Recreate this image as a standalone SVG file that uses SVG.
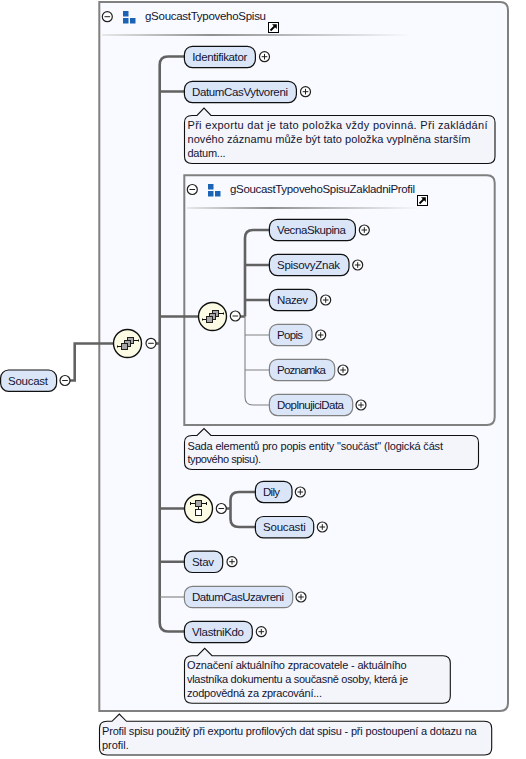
<svg xmlns="http://www.w3.org/2000/svg" width="526" height="759" viewBox="0 0 526 759">
<style>
text{font-family:"Liberation Sans",Arial,sans-serif;fill:#141432}
.lb{font-size:11.5px}
.an{font-size:11px}
.hd{font-size:11.5px}
.box{fill:#F9FAFF;stroke:#808080;stroke-width:2}
.req{fill:#DAE6F8;stroke:#101010;stroke-width:1.2}
.opt{fill:#DAE6F8;stroke:#808080;stroke-width:1.2}
.note{fill:#F3F5FA;stroke:#101010;stroke-width:1.1}
.btn{fill:#fff;stroke:#202020;stroke-width:1.2}
.sign{fill:none;stroke:#202020;stroke-width:1}
.thick{fill:none;stroke:#626262;stroke-width:2.6}
.thin{fill:none;stroke:#808080;stroke-width:1.1}
.comp{fill:#FCFBE3;stroke:#101010;stroke-width:1.4}
.sq{fill:#A8A8A8;stroke:#202020;stroke-width:1}
.wh{fill:#fff;stroke:#202020;stroke-width:1}
.bl{fill:#1B63B5}
.ic{fill:none;stroke:#101010;stroke-width:1}
</style>
<defs>
<linearGradient id="rule" x1="0" x2="1" y1="0" y2="0">
<stop offset="0" stop-color="#E8E8E8"/><stop offset="0.35" stop-color="#909090"/><stop offset="1" stop-color="#F9FAFF"/>
</linearGradient>
<g id="plus"><circle class="btn" r="5"/><path class="sign" d="M-2.8,0H2.8M0,-2.8V2.8"/></g>
<g id="minus"><circle class="btn" r="5"/><path class="sign" d="M-2.8,0H2.8"/></g>
<g id="grp"><rect class="bl" x="0" y="0" width="5.5" height="5.5"/><rect class="bl" x="0" y="7" width="5.5" height="5.5"/><rect class="bl" x="7" y="7" width="5.5" height="5.5"/></g>
<g id="link"><rect x="0.5" y="0.5" width="10" height="10" fill="#fff" stroke="#000"/><path d="M2.5,8.5L7,4" stroke="#000" stroke-width="1.8" fill="none"/><path d="M4,2.2H8.8V7z" fill="#000"/></g>
<g id="seq"><circle class="comp" r="14"/><path class="ic" d="M-10,3H-6M-10,2V4M6,-3H11M11,-4V-2"/><rect class="sq" x="0" y="-6" width="6" height="6"/><rect class="sq" x="-3" y="-3" width="6" height="6"/><rect class="sq" x="-6" y="0" width="6" height="6"/></g>
<g id="cho"><circle class="comp" r="14"/><path class="ic" d="M-8,-5H8M-8,-6.5V-3.5M8,-6.5V-3.5M0,-2V1"/><rect class="sq" x="-3" y="-8" width="6" height="6"/><rect class="wh" x="-3" y="1" width="6" height="6"/></g>
</defs>

<g id="gSoucastTypovehoSpisu">
<path class="box" d="M99.3,2H500Q508,2 508,10V703Q508,711 500,711H99.3Z"/>
<use href="#minus" x="107.3" y="16.7"/>
<use href="#grp" x="123" y="11"/>
<text class="hd" x="145" y="20" textLength="121">gSoucastTypovehoSpisu</text>
<use href="#link" x="268" y="22"/>
<rect x="102" y="34" width="310" height="2" fill="url(#rule)"/>
</g>

<g id="gSoucastTypovehoSpisuZakladniProfil">
<path class="box" d="M184.3,175.2H487Q494.7,175.2 494.7,183V417Q494.7,425 487,425H184.3Z"/>
<use href="#minus" x="192.3" y="189.5"/>
<use href="#grp" x="208" y="184"/>
<text class="hd" x="230" y="193" textLength="185">gSoucastTypovehoSpisuZakladniProfil</text>
<use href="#link" x="417" y="195"/>
<rect x="187" y="207" width="235" height="2" fill="url(#rule)"/>
</g>

<g id="connectors">
<path class="thick" d="M70,380.5H74.7V343.5H114"/>
<path class="thick" d="M156,343.5H159.7"/>
<path class="thick" d="M184,56.5H168Q159.7,56.5 159.7,65V622.5Q159.7,631.5 168,631.5H184"/>
<path class="thick" d="M159.7,91.5H184M159.7,316.5H198.5M159.7,508.5H185M159.7,561.7H184"/>
<path class="thin" d="M159.7,597H184"/>
<path class="thick" d="M240,316.5H245M269,230H253Q245,230 245,238V316.5M245,265H269M245,300H269"/>
<path class="thin" d="M245,316.5V397Q245,405 253,405H269M245,335H269M245,370H269"/>
<path class="thick" d="M226,508.5H230.5M255,492H239Q230.5,492 230.5,500V519Q230.5,527 239,527H255"/>
</g>

<g id="node-soucast"><rect class="req" x="0.6" y="370" width="56" height="21.3" rx="8"/><text class="lb" x="8" y="385" textLength="40">Soucast</text><use href="#minus" x="65" y="380.5"/></g>
<g id="node-seq1"><use href="#seq" x="127.5" y="343.5"/><use href="#minus" x="151" y="343.3"/></g>
<g id="node-identifikator"><rect class="req" x="184.4" y="46.3" width="71" height="21.3" rx="8"/><text class="lb" x="192.3" y="61" textLength="55">Identifikator</text><use href="#plus" x="264.5" y="56.7"/></g>
<g id="node-datumcasvytvoreni"><rect class="req" x="184.4" y="81.3" width="112" height="21.3" rx="8"/><text class="lb" x="192" y="96" textLength="96">DatumCasVytvoreni</text><use href="#plus" x="305.5" y="91.7"/></g>
<g id="note-datumcasvytvoreni"><path class="note" d="M192,115.5H197L204,108L211,115.5H488Q495,115.5 495,122.5V156.5Q495,163.5 488,163.5H192Q184.5,163.5 184.5,156.5V122.5Q184.5,115.5 192,115.5Z"/>
<text class="an" x="187.5" y="129" textLength="300">Při exportu dat je tato položka vždy povinná. Při zakládání</text>
<text class="an" x="187.5" y="143" textLength="283">nového záznamu může být tato položka vyplněna starším</text>
<text class="an" x="187.5" y="157" textLength="38">datum...</text></g>

<g id="node-seq2"><use href="#seq" x="212.5" y="316.5"/><use href="#minus" x="235.3" y="316"/></g>
<g id="node-vecnaskupina"><rect class="req" x="269.4" y="219.3" width="86" height="21.3" rx="8"/><text class="lb" x="277" y="234" textLength="69">VecnaSkupina</text><use href="#plus" x="364.3" y="230"/></g>
<g id="node-spisovyznak"><rect class="req" x="269.4" y="254.3" width="79.6" height="21.3" rx="8"/><text class="lb" x="277" y="269" textLength="63">SpisovyZnak</text><use href="#plus" x="357.7" y="265"/></g>
<g id="node-nazev"><rect class="req" x="269.4" y="289.3" width="47.3" height="21.3" rx="8"/><text class="lb" x="277" y="304" textLength="31">Nazev</text><use href="#plus" x="325.7" y="300"/></g>
<g id="node-popis"><rect class="opt" x="269.4" y="324.3" width="42.6" height="21.3" rx="8"/><text class="lb" x="277" y="339" textLength="26">Popis</text><use href="#plus" x="320.7" y="335"/></g>
<g id="node-poznamka"><rect class="opt" x="269.4" y="359.3" width="65.3" height="21.3" rx="8"/><text class="lb" x="277" y="374" textLength="49">Poznamka</text><use href="#plus" x="343" y="370"/></g>
<g id="node-doplnujicidata"><rect class="opt" x="269.4" y="394.3" width="83.3" height="21.3" rx="8"/><text class="lb" x="277" y="409" textLength="67">DoplnujiciData</text><use href="#plus" x="361" y="405"/></g>

<g id="note-profil"><path class="note" d="M192,435.5H197L204,428.5L211,435.5H471.5Q478.5,435.5 478.5,442.5V462.5Q478.5,469.5 471.5,469.5H192Q184.5,469.5 184.5,462.5V442.5Q184.5,435.5 192,435.5Z"/>
<text class="an" x="187.5" y="449.5" textLength="255.5">Sada elementů pro popis entity "součást" (logická část</text>
<text class="an" x="187.5" y="463" textLength="73.5">typového spisu).</text></g>

<g id="node-cho"><use href="#cho" x="198.5" y="508.5"/><use href="#minus" x="221.3" y="508.5"/></g>
<g id="node-dily"><rect class="req" x="255.4" y="481.3" width="36.6" height="21.3" rx="8"/><text class="lb" x="263" y="496" textLength="17">Dily</text><use href="#plus" x="300.3" y="492"/></g>
<g id="node-soucasti"><rect class="req" x="255.4" y="516.5" width="58.3" height="21.3" rx="8"/><text class="lb" x="263" y="531" textLength="42.7">Soucasti</text><use href="#plus" x="322.3" y="527"/></g>

<g id="node-stav"><rect class="req" x="184.4" y="551.2" width="38.3" height="21.3" rx="8"/><text class="lb" x="192" y="566" textLength="22">Stav</text><use href="#plus" x="232" y="561.7"/></g>
<g id="node-datumcasuzavreni"><rect class="opt" x="184.4" y="586.4" width="108.3" height="21.3" rx="8"/><text class="lb" x="192" y="601" textLength="92">DatumCasUzavreni</text><use href="#plus" x="301" y="597"/></g>
<g id="node-vlastnikdo"><rect class="req" x="184.4" y="621.3" width="67.9" height="21.3" rx="8"/><text class="lb" x="192" y="636" textLength="52">VlastniKdo</text><use href="#plus" x="261.3" y="631.7"/></g>
<g id="note-vlastnikdo"><path class="note" d="M192,655.7H197.5L204.7,648.3L212,655.7H443Q450.3,655.7 450.3,663V696Q450.3,703.3 443,703.3H192Q184.5,703.3 184.5,696V663Q184.5,655.7 192,655.7Z"/>
<text class="an" x="187" y="669" textLength="219.7">Označení aktuálního zpracovatele - aktuálního</text>
<text class="an" x="187" y="683" textLength="221">vlastníka dokumentu a současně osoby, která je</text>
<text class="an" x="187" y="697" textLength="135">zodpovědná za zpracování...</text></g>

<g id="note-group"><path class="note" d="M107,721.3H112L119.3,714L126.5,721.3H484.5Q491.7,721.3 491.7,728.3V748Q491.7,755 484.5,755H107Q99.5,755 99.5,748V728.3Q99.5,721.3 107,721.3Z"/>
<text class="an" x="102" y="735" textLength="374.7">Profil spisu použitý při exportu profilových dat spisu - při postoupení a dotazu na</text>
<text class="an" x="102" y="749" textLength="26.7">profil.</text></g>
</svg>
